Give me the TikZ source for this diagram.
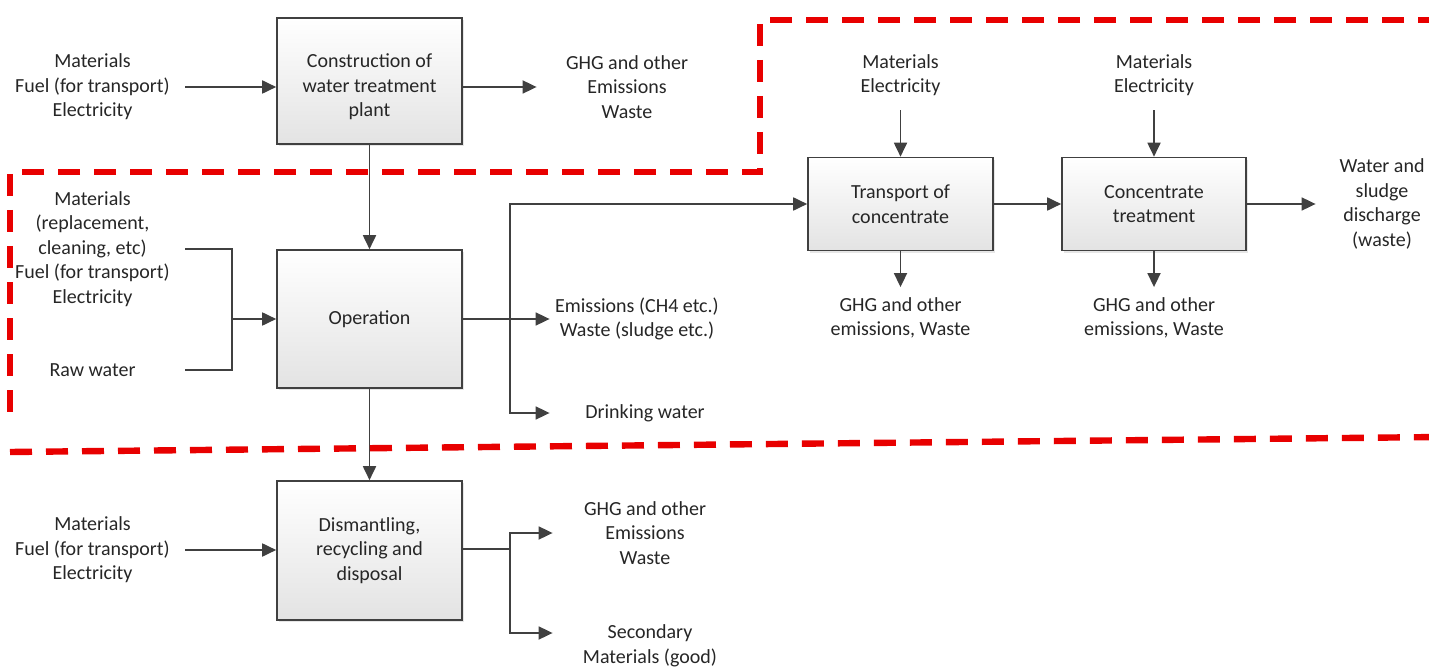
\documentclass[tikz,border=0pt]{standalone}
\usepackage{fontspec}
\setmainfont{Carlito}
\usetikzlibrary{arrows.meta,shadows,calc}
\definecolor{bred}{RGB}{232,0,0}
\definecolor{ink}{RGB}{64,64,64}
\definecolor{txt}{RGB}{38,38,38}
\begin{document}
\begin{tikzpicture}[x=0.5pt,y=-0.5pt,
  font=\fontsize{10}{12.3}\selectfont,
  proc/.style={draw=ink, line width=0.8pt, top color=white, bottom color=black!11,
    drop shadow={opacity=0.2,shadow xshift=1.2pt,shadow yshift=-1.2pt},
    text=txt, align=flush center, inner sep=0pt},
  lbl/.style={align=flush center, inner sep=0pt, text=txt},
  ln/.style={draw=ink, line width=0.9pt},
  arr/.style={draw=ink, line width=0.9pt, -{Triangle[length=7pt,width=6.5pt]}},
  bound/.style={draw=bred, line width=3.2pt, dash pattern=on 11pt off 7pt}]
\useasboundingbox (0,0) rectangle (1429,668);

% construction
\node[lbl, text width=92.5pt] (in1) at (92.5,87) {Materials\\Fuel (for transport)\\Electricity};
\node[proc, minimum width=92.5pt, minimum height=63pt,
  label={[lbl,yshift=-3pt]center:{Construction of\\water treatment\\plant}}] (con) at (369.5,81) {};
\node[lbl, text width=90pt] (out1) at (627,87) {GHG and other\\Emissions\\Waste};

% operation
\node[lbl, text width=92.5pt] (in2) at (92.5,249) {Materials\\(replacement,\\cleaning, etc)\\Fuel (for transport)\\Electricity};
\node[lbl, text width=92.5pt] (raw) at (92.5,370) {Raw water};
\node[proc, minimum width=92.5pt, minimum height=69pt] (op) at (369.5,319) {Operation};
\node[lbl, text width=87pt] (out2) at (637,319) {Emissions (CH4 etc.)\\Waste (sludge etc.)};
\node[lbl, text width=95pt] (dw) at (645,413) {Drinking water};

% dismantling
\node[lbl, text width=92.5pt] (in3) at (92.5,550) {Materials\\Fuel (for transport)\\Electricity};
\node[proc, minimum width=92.5pt, minimum height=69.5pt] (dis) at (369.5,550.5) {Dismantling,\\recycling and\\disposal};
\node[lbl, text width=92pt] (out3) at (645,533) {GHG and other\\Emissions\\Waste};
\node[lbl, text width=97pt] (sec) at (650,646) {Secondary\\Materials (good)};

% concentrate chain
\node[proc, minimum width=92.5pt, minimum height=46.5pt] (tr) at (900.5,204) {Transport of\\concentrate};
\node[proc, minimum width=92pt, minimum height=46.5pt] (ct) at (1154,204) {Concentrate\\treatment};
\node[lbl] (ti) at (900.5,75) {Materials\\Electricity};
\node[lbl] (ci) at (1154,75) {Materials\\Electricity};
\node[lbl] (to) at (900.5,318) {GHG and other\\emissions, Waste};
\node[lbl] (co) at (1154,318) {GHG and other\\emissions, Waste};
\node[lbl, text width=66pt] (wd) at (1382,204) {Water and\\sludge\\discharge\\(waste)};

% connectors
\draw[arr] (in1.east) -- (in1.east -| con.west);
\draw[arr] (out1.west -| con.east) -- (out1.west);
\draw[arr] (con) -- (op);
\coordinate (j0) at (232,319);
\draw[ln] (in2.east) -| (j0) |- (raw.east);
\draw[arr] (j0) -- (op);
\draw[arr] (op) -- (out2);
\coordinate (j1) at (510,319);
\draw[arr] (j1) |- (tr);
\draw[arr] (j1) |- (dw);
\draw[arr] (op) -- (dis);
\draw[arr] (in3.east) -- (in3.east -| dis.west);
\coordinate (j2) at (510,549);
\draw[ln] (j2 -| dis.east) -- (j2);
\draw[arr] (j2) |- (out3);
\draw[arr] (j2) |- ($(sec.west)+(0,-13)$);
\draw[arr, shorten <=7pt] (ti) -- (tr);
\draw[arr, shorten >=5pt] (tr) -- (to);
\draw[arr, shorten <=7pt] (ci) -- (ct);
\draw[arr, shorten >=5pt] (ct) -- (co);
\draw[arr] (tr) -- (ct);
\draw[arr] (ct) -- (wd);

% system boundary
\draw[bound] (1440,20) -- (760,20) -- (760,172) -- (10,172) -- (10,420);
\draw[bound] (10,452) -- (1440,437);
\end{tikzpicture}
\end{document}
